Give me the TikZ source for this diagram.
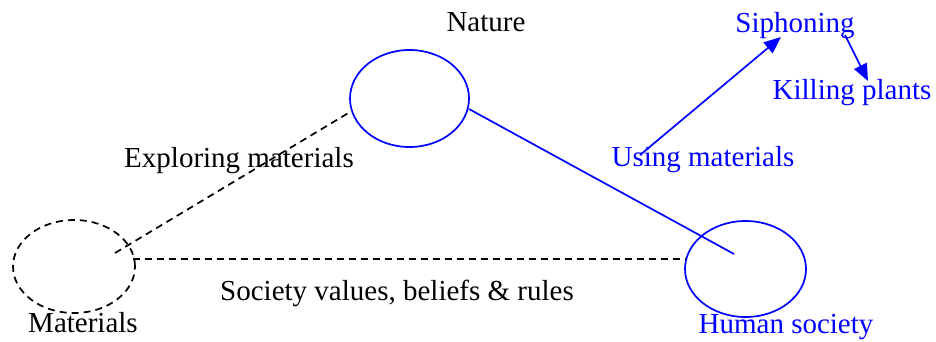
\documentclass[tikz,border=0pt]{standalone}
\usepackage{fontspec}
\setmainfont{Liberation Serif}
\usetikzlibrary{arrows.meta,shapes.geometric}
\definecolor{myblue}{RGB}{0,0,255}
\tikzset{
  lbl/.style={anchor=base,inner sep=0pt,font=\fontsize{29}{34}\selectfont},
  bluelbl/.style={lbl,text=myblue},
  oval/.style={ellipse,draw,line width=1.7pt,inner sep=0pt},
  dsh/.style={draw=black,line width=1.7pt,dash pattern=on 7pt off 5pt},
  bl/.style={draw=myblue,line width=1.7pt},
  arr/.style={bl,-{Triangle[length=17pt,width=14pt]}}
}
\begin{document}
\begin{tikzpicture}[x=1pt,y=-1pt]
\useasboundingbox (0,0) rectangle (936,341);
% ellipses
\node[oval,draw=myblue,minimum width=119pt,minimum height=97pt] (nat) at (409.5,98.5) {};
\node[oval,dsh,minimum width=122pt,minimum height=93pt] (mat) at (74,266.5) {};
\node[oval,draw=myblue,minimum width=121pt,minimum height=96pt] (hum) at (745.5,269) {};
% labels
\node[lbl] (tnat) at (486,31) {Nature};
\node[lbl] (texp) at (239,167) {Exploring materials};
\node[lbl] (tsoc) at (397,300) {Society values, beliefs \& rules};
\node[lbl] (tmat) at (83,332) {Materials};
\node[bluelbl] (thum) at (786,333) {Human society};
\node[bluelbl] (tsip) at (795,32) {Siphoning};
\node[bluelbl] (tkil) at (852,99) {Killing plants};
\node[bluelbl] (tuse) at (703,166) {Using materials};
% connector end points
\coordinate (m1) at (115,253);
\coordinate (n1) at (350,112);
\coordinate (m2) at (133,259);
\coordinate (h2) at (686,259);
\coordinate (n3) at (469,109);
\coordinate (h3) at (734,254);
\coordinate (u1) at (640,155);
\coordinate (s1) at (781,37);
\coordinate (s2) at (845,35);
\coordinate (k1) at (868,81);
% connectors
\draw[dsh] (m1) -- (n1);
\draw[dsh] (m2) -- (h2);
\draw[bl] (n3) -- (h3);
\draw[arr] (u1) -- (s1);
\draw[arr] (s2) -- (k1);
\end{tikzpicture}
\end{document}
